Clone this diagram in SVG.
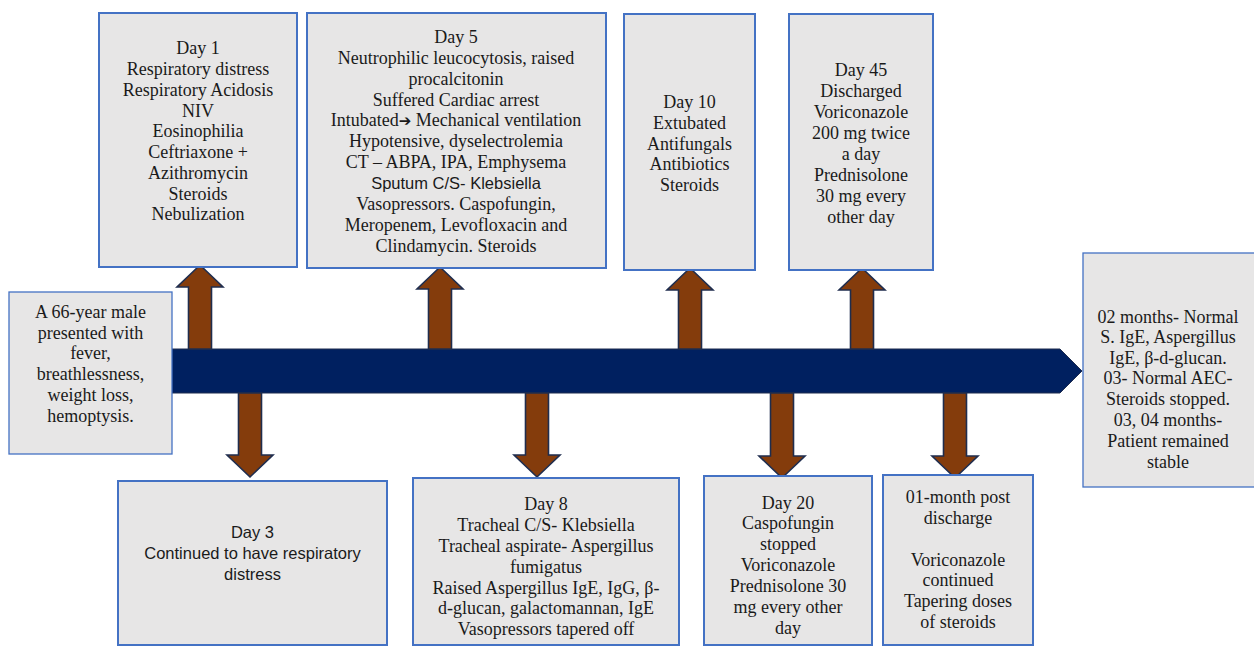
<svg xmlns="http://www.w3.org/2000/svg" width="1254" height="647" viewBox="0 0 1254 647">
<style>
.box{fill:#e7e6e6;stroke:#4472c4;stroke-width:2}
.thin{stroke-width:1.3}
.t{font-family:"Liberation Serif","Times New Roman",serif;font-size:18px;fill:#1a1a1a;text-anchor:middle}
.s{font-family:"Liberation Sans",Arial,sans-serif;font-size:16.5px;fill:#1a1a1a;text-anchor:middle}
.arr{fill:#843c0c;stroke:#1f2d4e;stroke-width:1.6;stroke-linejoin:miter}
.bar{fill:#002060;stroke:#1f2d4e;stroke-width:1}
</style>
<rect width="1254" height="647" fill="#ffffff"/>

<g id="connectors">
<polygon class="bar" points="171,349 1060,349 1082,371 1060,393 171,393"/>
<polygon class="arr" points="188.5,349 188.5,287 177,287 200,265 223,287 211.5,287 211.5,349"/>
<polygon class="arr" points="428.5,349 428.5,289 417,289 440,267 463,289 451.5,289 451.5,349"/>
<polygon class="arr" points="678.5,349 678.5,290 667,290 690,268 713,290 701.5,290 701.5,349"/>
<polygon class="arr" points="850.5,349 850.5,290 839,290 862,268 885,290 873.5,290 873.5,349"/>
<polygon class="arr" points="238.5,393 238.5,455 227,455 250,477 273,455 261.5,455 261.5,393"/>
<polygon class="arr" points="525.5,393 525.5,455 514,455 537,477 560,455 548.5,455 548.5,393"/>
<polygon class="arr" points="770.5,393 770.5,456 759,456 782,478 805,456 793.5,456 793.5,393"/>
<polygon class="arr" points="943.5,393 943.5,456 932,456 955,478 978,456 966.5,456 966.5,393"/>
</g>

<g id="start">
<rect class="box thin" x="9" y="292" width="163" height="162"/>
<text class="t"><tspan x="90.5" y="318">A 66-year male</tspan><tspan x="90.5" y="339">presented with</tspan><tspan x="90.5" y="359">fever,</tspan><tspan x="90.5" y="380">breathlessness,</tspan><tspan x="90.5" y="401">weight loss,</tspan><tspan x="90.5" y="422">hemoptysis.</tspan></text>
</g>

<g id="day1">
<rect class="box" x="99" y="13" width="198" height="254"/>
<text class="t"><tspan x="198" y="54">Day 1</tspan><tspan x="198" y="75">Respiratory distress</tspan><tspan x="198" y="96">Respiratory Acidosis</tspan><tspan x="198" y="116.5">NIV</tspan><tspan x="198" y="137">Eosinophilia</tspan><tspan x="198" y="158">Ceftriaxone +</tspan><tspan x="198" y="179">Azithromycin</tspan><tspan x="198" y="200">Steroids</tspan><tspan x="198" y="220">Nebulization</tspan></text>
</g>

<g id="day5">
<rect class="box" x="307" y="13" width="299" height="255"/>
<text class="t"><tspan x="456" y="43">Day 5</tspan><tspan x="456" y="64">Neutrophilic leucocytosis, raised</tspan><tspan x="456" y="85">procalcitonin</tspan><tspan x="456" y="106">Suffered Cardiac arrest</tspan><tspan x="456" y="126">Intubated<tspan font-family="DejaVu Sans" font-size="15" font-weight="bold">➔</tspan> Mechanical ventilation</tspan><tspan x="456" y="147">Hypotensive, dyselectrolemia</tspan><tspan x="456" y="168">CT – ABPA, IPA, Emphysema</tspan></text>
<text class="s" x="456" y="189">Sputum C/S- Klebsiella</text>
<text class="t"><tspan x="456" y="210">Vasopressors. Caspofungin,</tspan><tspan x="456" y="231">Meropenem, Levofloxacin and</tspan><tspan x="456" y="252">Clindamycin. Steroids</tspan></text>
</g>

<g id="day10">
<rect class="box" x="624" y="14" width="131" height="256"/>
<text class="t"><tspan x="689.5" y="108">Day 10</tspan><tspan x="689.5" y="128.5">Extubated</tspan><tspan x="689.5" y="149.5">Antifungals</tspan><tspan x="689.5" y="170">Antibiotics</tspan><tspan x="689.5" y="191">Steroids</tspan></text>
</g>

<g id="day45">
<rect class="box" x="789" y="14" width="144" height="256"/>
<text class="t"><tspan x="861" y="76">Day 45</tspan><tspan x="861" y="97">Discharged</tspan><tspan x="861" y="118">Voriconazole</tspan><tspan x="861" y="139">200 mg twice</tspan><tspan x="861" y="160">a day</tspan><tspan x="861" y="181">Prednisolone</tspan><tspan x="861" y="202">30 mg every</tspan><tspan x="861" y="223">other day</tspan></text>
</g>

<g id="followup">
<rect class="box thin" x="1083" y="253" width="175" height="234"/>
<text class="t"><tspan x="1168" y="323">02 months- Normal</tspan><tspan x="1168" y="343">S. IgE, Aspergillus</tspan><tspan x="1168" y="363.5">IgE, β-d-glucan.</tspan><tspan x="1168" y="384">03- Normal AEC-</tspan><tspan x="1168" y="405">Steroids stopped.</tspan><tspan x="1168" y="426">03, 04 months-</tspan><tspan x="1168" y="447">Patient remained</tspan><tspan x="1168" y="468">stable</tspan></text>
</g>

<g id="day3">
<rect class="box" x="118" y="481" width="269" height="164"/>
<text class="s"><tspan x="252.5" y="538">Day 3</tspan><tspan x="252.5" y="559">Continued to have respiratory</tspan><tspan x="252.5" y="580">distress</tspan></text>
</g>

<g id="day8">
<rect class="box" x="413" y="478" width="266" height="167"/>
<text class="t"><tspan x="546" y="510">Day 8</tspan><tspan x="546" y="531">Tracheal C/S- Klebsiella</tspan><tspan x="546" y="552">Tracheal aspirate- Aspergillus</tspan><tspan x="546" y="573">fumigatus</tspan><tspan x="546" y="594">Raised Aspergillus IgE, IgG, β-</tspan><tspan x="546" y="614">d-glucan, galactomannan, IgE</tspan><tspan x="546" y="635">Vasopressors tapered off</tspan></text>
</g>

<g id="day20">
<rect class="box" x="704" y="476" width="168" height="169"/>
<text class="t"><tspan x="788" y="509">Day 20</tspan><tspan x="788" y="529">Caspofungin</tspan><tspan x="788" y="550">stopped</tspan><tspan x="788" y="571">Voriconazole</tspan><tspan x="788" y="592">Prednisolone 30</tspan><tspan x="788" y="613">mg every other</tspan><tspan x="788" y="634">day</tspan></text>
</g>

<g id="month1">
<rect class="box" x="883" y="475" width="150" height="170"/>
<text class="t"><tspan x="958" y="503">01-month post</tspan><tspan x="958" y="524">discharge</tspan><tspan x="958" y="566">Voriconazole</tspan><tspan x="958" y="586">continued</tspan><tspan x="958" y="607">Tapering doses</tspan><tspan x="958" y="628">of steroids</tspan></text>
</g>
</svg>
